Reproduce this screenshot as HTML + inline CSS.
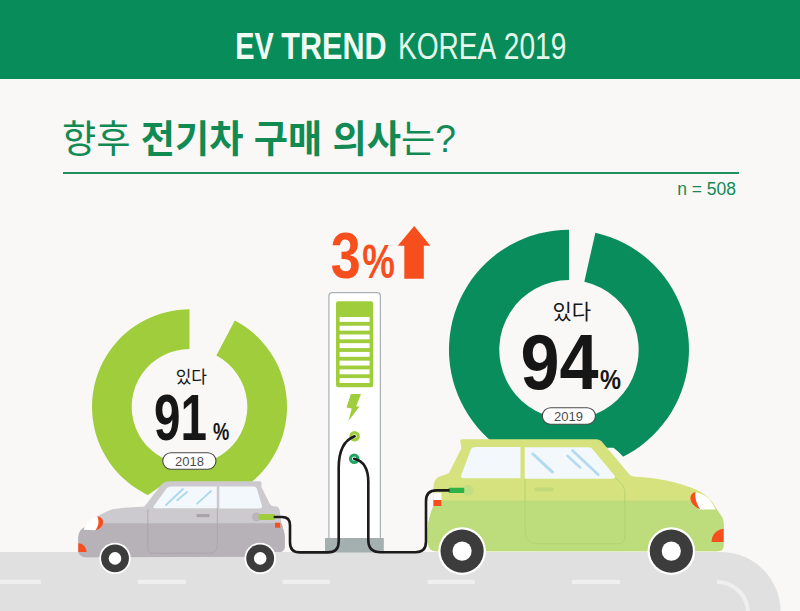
<!DOCTYPE html>
<html><head><meta charset="utf-8"><title>EV TREND KOREA 2019</title>
<style>html,body{margin:0;padding:0;background:#f9f8f6;font-family:"Liberation Sans",sans-serif;overflow:hidden}svg{display:block;width:800px;height:611px}</style>
</head><body><svg width="800" height="611" viewBox="0 0 800 611" role="img" aria-label="EV TREND KOREA 2019"><rect width="800" height="611" fill="#f9f8f6"/>
<rect width="800" height="79" fill="#078c5a"/>
<text x="235.3" y="59.2" font-family="'Liberation Sans', sans-serif" font-size="36" font-weight="bold" fill="#effbf3" textLength="38.5" lengthAdjust="spacingAndGlyphs">EV</text>
<text x="281.3" y="59.2" font-family="'Liberation Sans', sans-serif" font-size="36" font-weight="bold" fill="#effbf3" textLength="105.3" lengthAdjust="spacingAndGlyphs">TREND</text>
<text x="398" y="59.2" font-family="'Liberation Sans', sans-serif" font-size="36" fill="#e4f7ea" textLength="98.3" lengthAdjust="spacingAndGlyphs">KOREA</text>
<text x="503.8" y="59.2" font-family="'Liberation Sans', sans-serif" font-size="36" fill="#e4f7ea" textLength="62.5" lengthAdjust="spacingAndGlyphs">2019</text>
<text x="62" y="152" font-family="'Liberation Sans', 'Noto Sans CJK KR', sans-serif" font-size="38" fill="#128a54" textLength="394" lengthAdjust="spacingAndGlyphs">향후 <tspan font-weight="bold">전기차 구매 의사</tspan>는?</text>
<rect x="63" y="172" width="676" height="2" fill="#1f8f60"/>
<text x="736" y="195.3" font-family="'Liberation Sans', sans-serif" font-size="17.5" fill="#128a54" text-anchor="end">n = 508</text>
<path d="M0 552H721A59.5 59.5 0 0 1 780.5 611.5H0Z" fill="#e0e0e0"/>
<rect x="0" y="579.8" width="40.8" height="4.2" fill="#efefef"/>
<rect x="138" y="579.8" width="48.0" height="4.2" fill="#efefef"/>
<rect x="282.5" y="579.8" width="47.5" height="4.2" fill="#efefef"/>
<rect x="427.7" y="579.8" width="47.1" height="4.2" fill="#efefef"/>
<rect x="572" y="579.8" width="48.0" height="4.2" fill="#efefef"/>
<path d="M717 582A31 31 0 0 1 748 613" fill="none" stroke="#efefef" stroke-width="4.2"/>
<path d="M234.82 320.47A97.5 97.5 0 1 1 189.49 309.30L189.49 349.00A57.8 57.8 0 1 0 216.37 355.62Z" fill="#9fcd3c"/>
<path d="M595.38 232.64A120 120 0 1 1 568.99 229.70L568.99 280.00A69.7 69.7 0 1 0 584.32 281.71Z" fill="#0a8d5c"/>
<text x="191.3" y="383" font-family="'Liberation Sans', 'Noto Sans CJK KR', sans-serif" font-size="17" fill="#161616" text-anchor="middle">있다</text>
<text x="154" y="440" font-family="'Liberation Sans', sans-serif" font-size="64" font-weight="bold" fill="#161616" textLength="53" lengthAdjust="spacingAndGlyphs">91</text>
<text x="213.1" y="440.2" font-family="'Liberation Sans', sans-serif" font-size="23" font-weight="bold" fill="#161616" textLength="16.3" lengthAdjust="spacingAndGlyphs">%</text>
<rect x="162.75" y="452.75" width="53.2" height="16.5" rx="8.25" fill="#fff" stroke="#4a4a4a" stroke-width="1.1"/>
<text x="189.5" y="465.9" font-family="'Liberation Sans', sans-serif" font-size="13" fill="#4d4d4d" text-anchor="middle">2018</text>
<text x="571.75" y="319" font-family="'Liberation Sans', 'Noto Sans CJK KR', sans-serif" font-size="21" fill="#161616" text-anchor="middle">있다</text>
<text x="520.5" y="389" font-family="'Liberation Sans', sans-serif" font-size="78" font-weight="bold" fill="#161616" textLength="78" lengthAdjust="spacingAndGlyphs">94</text>
<text x="600" y="389.1" font-family="'Liberation Sans', sans-serif" font-size="28" font-weight="bold" fill="#161616" textLength="21" lengthAdjust="spacingAndGlyphs">%</text>
<rect x="542.35" y="407.75" width="53.1" height="16.5" rx="8.25" fill="#fff" stroke="#4a4a4a" stroke-width="1.1"/>
<text x="568.5" y="421.1" font-family="'Liberation Sans', sans-serif" font-size="13" fill="#4d4d4d" text-anchor="middle">2019</text>
<text x="330.8" y="278.4" font-family="'Liberation Sans', sans-serif" font-size="65" font-weight="bold" fill="#f74e1e" textLength="30" lengthAdjust="spacingAndGlyphs">3</text>
<text x="362.3" y="278.4" font-family="'Liberation Sans', sans-serif" font-size="48" font-weight="bold" fill="#f74e1e" textLength="32.7" lengthAdjust="spacingAndGlyphs">%</text>
<path d="M414.2 226L430.3 245.8H423.8V278.8H404.3V245.8H397.7Z" fill="#f74e1e"/>
<rect x="328.9" y="292.6" width="51.5" height="248" rx="3.5" fill="#fff" stroke="#a9b1b5" stroke-width="1.2"/>
<rect x="325" y="538" width="58.8" height="14.5" fill="#a4afaf"/>
<rect x="336" y="301.2" width="37.2" height="86" rx="2.2" fill="#9fcd3c"/>
<rect x="339.6" y="317.00" width="30" height="4.9" fill="#fff"/>
<rect x="339.6" y="325.73" width="30" height="4.9" fill="#fff"/>
<rect x="339.6" y="334.46" width="30" height="4.9" fill="#fff"/>
<rect x="339.6" y="343.19" width="30" height="4.9" fill="#fff"/>
<rect x="339.6" y="351.92" width="30" height="4.9" fill="#fff"/>
<rect x="339.6" y="360.65" width="30" height="4.9" fill="#fff"/>
<rect x="339.6" y="369.38" width="30" height="4.9" fill="#fff"/>
<rect x="339.6" y="378.11" width="30" height="4.9" fill="#fff"/>
<path d="M350.9 394.1H361L356.1 406.4H359.6L348.4 421.1L351.7 408.6L346.5 407.6Z" fill="#9fcd3c"/>
<circle cx="354.6" cy="436.3" r="3.7" fill="#fff" stroke="#9fcd3c" stroke-width="3.1"/>
<circle cx="354.2" cy="458.7" r="3.7" fill="#fff" stroke="#1fa560" stroke-width="3.1"/>
<path d="M161.5 485.6L145 507L131 507Z" fill="#f9f9f7"/>
<clipPath id="lc"><path d="M170.5 481.2L259.5 481.2Q261.6 481.2 261.6 483.2L261.2 486.5L268.6 501.6Q270.2 505.8 273.2 506.2L276.6 506.6Q279.4 507.2 279.8 511C280.5 516 281 521 281.8 524L284.3 533Q284.8 535 284.8 538L284.8 546Q284.8 552 279 552L272 552L272 556.6L86 557.2Q78.3 557.2 78.3 550L78.3 538Q78.3 530 84.7 527.3C90 520 100 514 112.6 509.3C122 507.5 135 507 144.3 506.8L160 486.2Q163.3 481.2 170.5 481.2Z"/></clipPath>
<path d="M170.5 481.2L259.5 481.2Q261.6 481.2 261.6 483.2L261.2 486.5L268.6 501.6Q270.2 505.8 273.2 506.2L276.6 506.6Q279.4 507.2 279.8 511C280.5 516 281 521 281.8 524L284.3 533Q284.8 535 284.8 538L284.8 546Q284.8 552 279 552L272 552L272 556.6L86 557.2Q78.3 557.2 78.3 550L78.3 538Q78.3 530 84.7 527.3C90 520 100 514 112.6 509.3C122 507.5 135 507 144.3 506.8L160 486.2Q163.3 481.2 170.5 481.2Z" fill="#cdcacf"/>
<rect x="70" y="523.2" width="230" height="40" fill="#b6b2b8" clip-path="url(#lc)"/>
<path d="M153.8 506L166.8 488.2Q168.2 486.4 171 486.4L216.8 486.4L216.8 508.2L155 508.2Q152.3 508.2 153.8 506Z" fill="#f2f8fc"/>
<path d="M219.3 486.4L253.5 486.4Q256 486.4 256.8 488.6L261.9 505.5Q262.6 508.5 259.6 508.5L219.3 508.5Z" fill="#f2f8fc"/>
<path d="M166 505L183 489" stroke="#acd8ee" stroke-width="1.8" stroke-linecap="round"/>
<path d="M177.2 500.3L187 492" stroke="#acd8ee" stroke-width="1.8" stroke-linecap="round"/>
<path d="M197.2 503.6L211 491" stroke="#acd8ee" stroke-width="1.8" stroke-linecap="round"/>
<path d="M147.8 509.5L147.8 548.5Q147.8 553.2 152.8 553.2L209.5 553.2Q217.3 553.2 217.3 545.5L217.3 508.5" fill="none" stroke="#a8a1a9" stroke-width="0.8"/>
<rect x="196.4" y="513.9" width="13.2" height="3.3" rx="1.2" fill="#a9a3ab"/>
<path d="M83.7 529.8C86 522.5 91 518 97.6 516.8C101 520 100.5 526.5 95.6 530.3Z" fill="#fff"/>
<path d="M97.2 516.6C105.5 517 105.5 528 95.2 530.4C99 526.3 99.4 520.6 97.2 516.6Z" fill="#f74e1e"/>
<path d="M78.3 543.3C83 543.3 86.5 547.5 86.5 552L78.3 552Z" fill="#f74e1e"/>
<circle cx="256.5" cy="517" r="4.6" fill="#b9b5bb"/>
<rect x="258.6" y="514.1" width="16.2" height="5.9" rx="1" fill="#9fcd3c"/>
<rect x="275" y="522.7" width="5.2" height="5" fill="#f74e1e"/>
<circle cx="115" cy="558.4" r="15.7" fill="#fff"/><circle cx="115" cy="558.4" r="13.9" fill="#3c3c3c"/><circle cx="115" cy="558.4" r="6.3" fill="#fff"/>
<circle cx="260.2" cy="558.4" r="15.7" fill="#fff"/><circle cx="260.2" cy="558.4" r="13.9" fill="#3c3c3c"/><circle cx="260.2" cy="558.4" r="6.3" fill="#fff"/>
<path d="M604 447.8L613.5 447.8Q619 452 623 456.5L640 477.5L628 477.5Z" fill="#f9f9f7"/>
<clipPath id="rc"><path d="M462 439.3L596 439.3Q600.3 439.3 603 443L629 474Q631.2 476.6 636 476.8C655 477.5 680 482 700 491.5C708 496 713 502 715.5 507.5L722 517Q723.6 520 723.6 524L723.6 545Q723.6 551.2 717.5 551.2L436 551.2Q427.7 551.2 427.7 541L427.7 530C428 520 431 512 433.4 506L433.4 490C433.4 485 434 481.5 436 479Q437.6 477 441 476L446.5 474.2Q449 473.2 450 471L461.4 448.3L460.3 441.6Q460 439.3 462 439.3Z"/></clipPath>
<path d="M462 439.3L596 439.3Q600.3 439.3 603 443L629 474Q631.2 476.6 636 476.8C655 477.5 680 482 700 491.5C708 496 713 502 715.5 507.5L722 517Q723.6 520 723.6 524L723.6 545Q723.6 551.2 717.5 551.2L436 551.2Q427.7 551.2 427.7 541L427.7 530C428 520 431 512 433.4 506L433.4 490C433.4 485 434 481.5 436 479Q437.6 477 441 476L446.5 474.2Q449 473.2 450 471L461.4 448.3L460.3 441.6Q460 439.3 462 439.3Z" fill="#d5e27d"/>
<rect x="420" y="500.6" width="320" height="60" fill="#bddc7c" clip-path="url(#rc)"/>
<path d="M461.3 475L470.8 449.5Q471.8 447 475 447L520.5 447L520.5 478.2L463.5 478.2Q460.2 478.2 461.3 475Z" fill="#f2f8fc"/>
<path d="M524.7 447.3L588.5 447.3Q591.3 447.3 593 449.7L614.3 475.3Q616.2 478.7 612.5 478.7L524.7 478.7Z" fill="#f2f8fc"/>
<path d="M532.9 454L552.5 472.1" stroke="#b2daf0" stroke-width="3.0" stroke-linecap="round"/>
<path d="M567.5 455.9L580.1 467.4" stroke="#b2daf0" stroke-width="2.6" stroke-linecap="round"/>
<path d="M572.5 450.5L598.3 474.8" stroke="#b2daf0" stroke-width="2.6" stroke-linecap="round"/>
<path d="M525 478.7L525 531Q525 543.7 538 543.7L618 543.7Q624.8 543.7 624.8 537L624.8 492C624.6 486 620 482 615.5 478.5" fill="none" stroke="#aed06f" stroke-width="0.8"/>
<rect x="534.5" y="487.4" width="19" height="4" rx="1.5" fill="#c0da78"/>
<circle cx="468.1" cy="490.4" r="5.6" fill="#c3dd82"/>
<rect x="448.5" y="487.8" width="15.8" height="5.2" rx="1" fill="#2db24a"/>
<rect x="433.5" y="492.7" width="8" height="7.5" fill="#fbfbf9"/>
<rect x="433.5" y="500" width="7.8" height="6" fill="#f74e1e"/>
<path d="M694 492.2C704 492.6 712 499.5 715.6 509.5L698.5 509.5Z" fill="#fff"/>
<path d="M695.5 492C689.5 493 686.5 503 700.5 509.6C696.5 504 694.5 498 695.5 492Z" fill="#f74e1e"/>
<path d="M723.6 528.7C716 529.5 711.8 535 711.5 541.9L723.6 541.9Z" fill="#f74e1e"/>
<circle cx="462.1" cy="551.1" r="23.8" fill="#fff"/><circle cx="462.1" cy="551.1" r="21.6" fill="#3c3c3c"/><circle cx="462.1" cy="551.1" r="9.6" fill="#fff"/>
<circle cx="671.3" cy="551.1" r="23.8" fill="#fff"/><circle cx="671.3" cy="551.1" r="21.6" fill="#3c3c3c"/><circle cx="671.3" cy="551.1" r="9.6" fill="#fff"/>
<path d="M274.8 517L282 517Q290 517 290 525L290 542.4Q290 552.4 300 552.4L327.8 552.4Q338.7 552.4 338.7 541.5L338.7 468C338.7 447 346 439.5 354.6 436.3" fill="none" stroke="#1b1b1b" stroke-width="2.6" stroke-linecap="round" stroke-linejoin="round"/>
<path d="M354.2 458.7C362 460.5 368.3 467 368.3 482L368.3 540Q368.3 552.2 380.5 552.2L415.5 552.2Q426 552.2 426 541.5L426 501Q426 490.4 436.5 490.4L448.5 490.4" fill="none" stroke="#1b1b1b" stroke-width="2.6" stroke-linecap="round" stroke-linejoin="round"/></svg></body></html>
